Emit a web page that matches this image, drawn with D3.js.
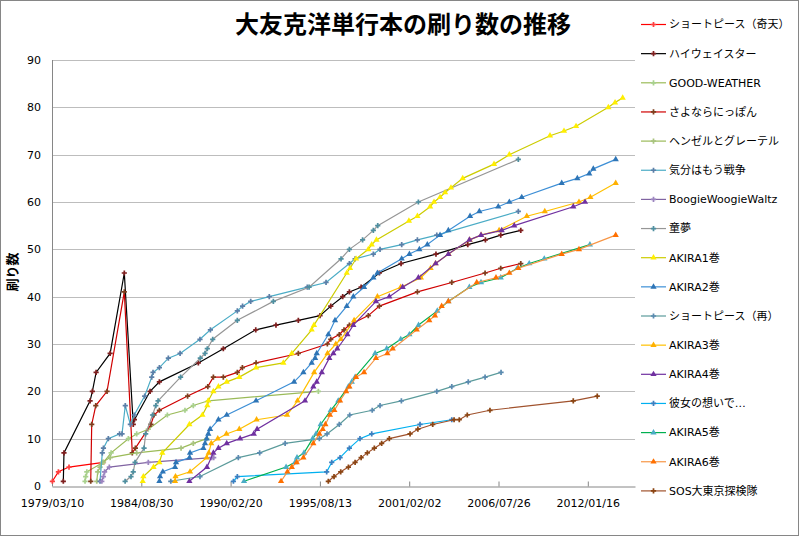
<!DOCTYPE html>
<html>
<head>
<meta charset="utf-8">
<script src="https://cdn.jsdelivr.net/npm/d3@7"></script>
<style>
body { margin: 0; background: #fff; }
svg { display: block; }
</style>
</head>
<body>
<svg id="chart"></svg>
<script>
// printings per title: [decimal year, number of printings]
const shortPieceKiten = [[1979.21,1],[1979.58,3],[1980.23,4],[1982.34,5]];
const highwayStar = [[1979.88,1],[1979.92,7],[1981.52,18],[1981.66,20],[1981.89,24],[1982.75,28],[1983.62,45],[1984.17,13],[1984.24,14],[1985.2,20],[1985.77,22],[1988.16,26],[1989.69,29],[1991.68,33],[1992.92,34],[1994.29,35],[1995.62,36],[1996.28,38],[1997.01,40],[1997.42,41],[1998.14,42],[1999.26,45],[2000.59,47],[2002.73,49],[2004.68,51],[2005.76,52],[2006.7,53],[2007.93,54]];
const goodWeather = [[1981.21,1],[1981.25,2],[1981.32,3],[1982.34,5],[1982.81,7],[1983.87,10],[1984.38,11],[1985.09,12],[1986.26,15],[1987.34,16],[1987.85,17],[1988.77,18],[1995.52,20]];
const sayonaraNippon = [[1981.56,1],[1981.62,13],[1981.87,17],[1982.56,20],[1983.62,41],[1984.11,7],[1984.3,8],[1985.25,13],[1985.44,15],[1985.77,16],[1987.5,19],[1988.74,21],[1989.08,23],[1989.69,23],[1990.55,24],[1990.86,25],[1991.7,26],[1994.29,28],[1996.07,30],[1996.28,31],[1996.8,32],[1997.09,33],[1997.42,34],[1998.58,36],[1999.26,38],[2001.59,41],[2003.7,43],[2005.74,45],[2006.7,46],[2007.93,47]];
const hansel = [[1981.93,1],[1981.99,3],[1982.13,4],[1982.27,5],[1982.75,6],[1984.38,7],[1987.1,8],[1987.85,9],[1988.68,10]];
const kibunWa = [[1982.13,1],[1982.27,7],[1982.34,8],[1982.64,10],[1983.33,11],[1983.48,11],[1983.68,17],[1983.99,13],[1984.23,15],[1984.87,19],[1985.3,23],[1985.38,24],[1985.77,25],[1986.32,27],[1987.04,28],[1988.26,31],[1988.9,33],[1990.55,37],[1990.87,38],[1991.37,39],[1992.51,40],[1994.84,42],[1995.99,43],[1997.42,47],[1997.77,48],[1998.89,49],[1999.3,50],[2000.63,51],[2001.59,52],[2002.78,53],[2007.78,58]];
const boogie = [[1982.24,1],[1982.34,2],[1982.41,3],[1982.7,4],[1985.09,5],[1988.98,6],[1989.1,6]];
const domu = [[1983.67,1],[1984.03,2],[1984.17,3],[1984.28,5],[1984.83,8],[1984.93,11],[1985.35,15],[1985.55,17],[1985.69,18],[1987.07,23],[1988.28,27],[1988.57,28],[1988.71,29],[1989.04,31],[1990.55,35],[1992.76,39],[1994.95,42],[1996.91,48],[1997.42,50],[1998.23,52],[1998.89,54],[1999.16,55],[2001.65,60],[2007.78,69]];
const akira1 = [[1984.75,1],[1984.79,2],[1985.41,4],[1985.77,5],[1985.95,7],[1987.61,13],[1988.41,15],[1988.71,17],[1988.77,18],[1989.08,20],[1989.39,21],[1989.9,22],[1990.67,23],[1991.7,25],[1993.37,26],[1993.89,28],[1995.11,33],[1995.25,34],[1997.26,45],[1997.46,46],[1997.83,48],[1998.58,50],[1998.79,51],[1999.08,52],[2001.07,56],[2001.59,57],[2002.37,59],[2002.61,60],[2002.98,61],[2003.29,62],[2003.65,63],[2004.37,65],[2006.29,68],[2007.23,70],[2009.72,74],[2010.58,75],[2011.32,76],[2013.3,80],[2013.71,81],[2014.18,82]];
const akira2 = [[1985.77,1],[1985.81,2],[1985.98,3],[1986.73,4],[1986.79,5],[1987.62,6],[1987.65,7],[1988.47,8],[1988.57,9],[1988.67,10],[1988.77,11],[1988.88,12],[1989.39,14],[1989.9,15],[1991.7,18],[1994.03,22],[1994.6,24],[1995.11,26],[1995.32,27],[1995.42,28],[1996.13,32],[1996.54,35],[1997.26,38],[1997.66,40],[1998.32,42],[1998.89,44],[1999.14,45],[2000.63,48],[2001.1,49],[2001.71,50],[2002.2,51],[2002.98,53],[2003.49,54],[2004.82,57],[2005.39,58],[2006.55,59],[2007.23,60],[2007.99,61],[2010.44,64],[2011.4,65],[2012.13,66],[2012.38,67],[2013.75,69]];
const shortPieceSai = [[1986.47,1],[1988.26,2],[1990.61,6],[1991.92,7],[1993.48,9],[1995.58,10],[1996.05,11],[1996.8,13],[1997.44,15],[1998.82,16],[1999.3,17],[2000.61,18],[2002.78,20],[2003.7,21],[2004.71,22],[2005.74,23],[2006.72,24]];
const akira3 = [[1986.73,1],[1986.76,2],[1987.65,3],[1988.67,6],[1988.8,7],[1988.95,9],[1989.35,10],[1989.88,11],[1990.67,12],[1991.73,14],[1993.6,15],[1994.24,18],[1995.26,24],[1996.08,28],[1996.59,30],[1996.9,31],[1997.71,35],[1999.14,40],[2000.57,42],[2001.8,44],[2002.4,46],[2002.7,47],[2003.5,49],[2004.8,52],[2005.5,53],[2006.6,54],[2008.3,57],[2009.4,58],[2011.5,60],[2012.2,61],[2013.75,64]];
const akira4 = [[1987.61,1],[1988.69,4],[1989.08,7],[1989.39,8],[1989.9,9],[1990.72,10],[1991.56,11],[1991.76,12],[1994.7,18],[1995.21,21],[1995.42,22],[1995.73,24],[1996.19,27],[1996.44,28],[1996.68,29],[1997.3,32],[1997.66,34],[1999.05,39],[1999.87,40],[2000.69,42],[2001.65,44],[2002.71,47],[2003.49,49],[2004.78,52],[2005.49,53],[2006.76,54],[2007.53,55],[2011.15,59],[2011.87,60]];
const kanojo = [[1990.31,1],[1990.55,2],[1996.03,3],[1996.34,5],[1996.85,6],[1997.42,8],[1998.07,10],[1998.79,11],[2001.75,13],[2003.7,14]];
const akira5 = [[1990.96,1],[1993.54,4],[1994.09,5],[1994.21,6],[1994.64,7],[1995.17,10],[1995.38,11],[1995.66,13],[1996.28,16],[1996.74,18],[1997.36,21],[1997.57,22],[1997.77,23],[1999.0,28],[1999.71,29],[2000.57,31],[2001.1,32],[2001.66,34],[2002.81,37],[2003.49,39],[2004.78,42],[2005.49,43],[2006.7,44],[2007.72,46],[2008.45,47],[2009.37,48],[2012.17,51]];
const akira6 = [[1993.23,1],[1993.62,3],[1993.89,4],[1994.19,5],[1994.6,6],[1995.21,9],[1995.58,11],[1995.79,12],[1995.95,13],[1996.23,15],[1996.5,16],[1996.85,18],[1997.22,20],[1997.42,21],[1997.83,23],[1998.32,24],[1999.05,27],[1999.75,28],[2000.08,29],[2001.55,33],[2002.32,35],[2002.67,36],[2003.08,38],[2003.49,39],[2005.23,43],[2006.41,44],[2007.23,45],[2007.78,46],[2010.44,49],[2011.5,50],[2013.75,53]];
const sosTokyo = [[1996.13,1],[1996.48,2],[1996.89,3],[1997.36,4],[1997.77,5],[1998.14,6],[1998.52,7],[1998.95,8],[1999.4,9],[1999.87,10],[2001.14,11],[2001.62,12],[2002.53,13],[2003.84,14],[2004.16,14],[2004.65,15],[2006.04,16],[2011.15,18],[2012.62,19]];

const seriesNames = ["ショートピース（奇天）", "ハイウェイスター", "GOOD-WEATHER", "さよならにっぽん", "ヘンゼルとグレーテル", "気分はもう戦争", "BoogieWoogieWaltz", "童夢", "AKIRA1巻", "AKIRA2巻", "ショートピース（再）", "AKIRA3巻", "AKIRA4巻", "彼女の想いで…", "AKIRA5巻", "AKIRA6巻", "SOS大東京探検隊"];
const seriesData = [shortPieceKiten, highwayStar, goodWeather, sayonaraNippon, hansel, kibunWa, boogie, domu, akira1, akira2, shortPieceSai, akira3, akira4, kanojo, akira5, akira6, sosTokyo];
const lineColors = ["#ff0000", "#000000", "#9bbb59", "#d00000", "#9bbb59", "#4bacc6", "#8064a2", "#969696", "#cccc00", "#3d8fd6", "#5b9b9b", "#ffc000", "#7030a0", "#00b0f0", "#00b050", "#f79646", "#a0522d"];
const markerColors = ["#ff4040", "#7f1f1f", "#a9d18e", "#7f3f1f", "#a9c47f", "#5b7fa8", "#9c85c0", "#4f8fa0", "#ffee00", "#2e75b6", "#5b8bb0", "#ffb000", "#7030a0", "#3c7fc0", "#4bacc6", "#ff7000", "#8b4513"];
const markerTypes = ["cross", "cross", "cross", "cross", "cross", "cross", "cross", "cross", "tri", "tri", "cross", "tri", "tri", "cross", "tri", "tri", "cross"];

const yTicks = [0, 10, 20, 30, 40, 50, 60, 70, 80, 90];
const axisStart = "1979/03/10", axisEnd = "2014/12/08", tickStepDays = 2000;
const title = "大友克洋単行本の刷り数の推移";
const yTitle = "刷り数";

let w = 800, h = 537;
let svg = d3.select("#chart").attr("width", w).attr("height", h);
let plot = {left: 52, right: 635, top: 60, bottom: 486};

let parse = d3.utcParse("%Y/%m/%d");
let fmt = d3.utcFormat("%Y/%m/%d");
function yearToDate(yr) {
    let y0 = Math.floor(yr);
    return new Date(Date.UTC(y0, 0, 1) + (yr - y0) * 365.25 * 864e5);
}

let t0 = parse(axisStart), t1 = parse(axisEnd);
let x = d3.scaleUtc().domain([t0, t1]).range([plot.left, plot.right]);
let y = d3.scaleLinear().domain([0, 90]).range([plot.bottom, plot.top]);

svg.append("rect")
    .attr("x", 0.5).attr("y", 0.5)
    .attr("width", w - 2).attr("height", h - 2)
    .attr("fill", "#fff").attr("stroke", "#868686");

// grid
svg.append("g").selectAll("line")
    .data(yTicks.slice(1))
    .enter().append("line")
    .attr("x1", plot.left).attr("x2", plot.right)
    .attr("y1", d => Math.round(y(d)) + 0.5).attr("y2", d => Math.round(y(d)) + 0.5)
    .attr("stroke", "#bdbdbd");

// y axis
svg.append("line")
    .attr("x1", plot.left + 0.5).attr("x2", plot.left + 0.5)
    .attr("y1", plot.top).attr("y2", plot.bottom)
    .attr("stroke", "#868686");
svg.append("g").selectAll("text")
    .data(yTicks)
    .enter().append("text")
    .attr("x", 41).attr("y", d => y(d) + 4)
    .attr("text-anchor", "end")
    .attr("font-family", "DejaVu Sans, Verdana, sans-serif")
    .attr("font-size", 11)
    .attr("fill", "#000")
    .text(d => d);

// x axis
let xTicks = d3.range(+t0, +t1, tickStepDays * 864e5).map(ms => new Date(ms));
let xAxis = svg.append("g")
    .attr("transform", "translate(0," + (plot.bottom + 0.5) + ")")
    .call(d3.axisBottom(x).tickValues(xTicks).tickFormat(fmt).tickSizeInner(-5).tickSizeOuter(0));
xAxis.select(".domain").attr("stroke", "#868686");
xAxis.selectAll(".tick line").attr("stroke", "#868686");
xAxis.selectAll(".tick text")
    .attr("y", 13)
    .attr("font-family", "DejaVu Sans, Verdana, sans-serif")
    .attr("font-size", 11)
    .attr("fill", "#000");

// series
let line = d3.line()
    .x(d => x(yearToDate(d[0])))
    .y(d => y(d[1]));

function symbolFor(i) {
    return markerTypes[i] == "tri"
        ? d3.symbol().type(d3.symbolTriangle).size(17)()
        : d3.symbol().type(d3.symbolCross).size(15)();
}

let g_series = svg.append("g");
seriesData.forEach((data, i) => {
    let g = g_series.append("g");
    g.append("path")
        .attr("d", line(data))
        .attr("fill", "none")
        .attr("stroke", lineColors[i])
        .attr("stroke-width", 1.2);
    g.selectAll("path.pt")
        .data(data)
        .enter().append("path")
        .attr("class", "pt")
        .attr("d", symbolFor(i))
        .attr("transform", d => "translate(" + x(yearToDate(d[0])) + "," + y(d[1]) + ")")
        .attr("fill", markerColors[i]);
});

// title
svg.append("text")
    .attr("x", 403).attr("y", 33)
    .attr("text-anchor", "middle")
    .attr("font-family", "Noto Sans CJK JP, sans-serif")
    .attr("font-weight", "bold")
    .attr("font-size", 24)
    .text(title);

svg.append("text")
    .attr("transform", "translate(17,272) rotate(-90)")
    .attr("text-anchor", "middle")
    .attr("font-family", "Noto Sans CJK JP, sans-serif")
    .attr("font-weight", "bold")
    .attr("font-size", 13)
    .text(yTitle);

// legend
let legend = svg.append("g").selectAll("g")
    .data(seriesNames)
    .enter().append("g")
    .attr("transform", (d, i) => "translate(641," + (24.5 + i * 29.15) + ")");
legend.append("line")
    .attr("x1", 0).attr("x2", 25)
    .attr("stroke", (d, i) => lineColors[i])
    .attr("stroke-width", 1.2);
legend.append("path")
    .attr("d", (d, i) => symbolFor(i))
    .attr("transform", "translate(12.5,0)")
    .attr("fill", (d, i) => markerColors[i]);
legend.append("text")
    .attr("x", 28).attr("dy", "0.35em")
    .attr("font-family", "DejaVu Sans, Noto Sans CJK JP, sans-serif")
    .attr("font-size", 11)
    .text(d => d);
</script>
</body>
</html>
